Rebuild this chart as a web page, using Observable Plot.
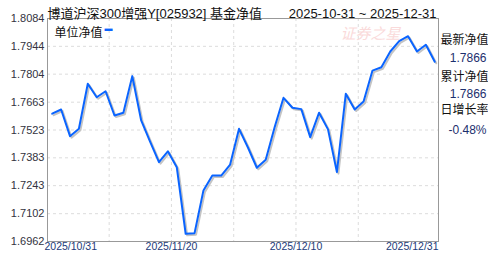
<!DOCTYPE html>
<html><head><meta charset="utf-8">
<script src="https://cdn.jsdelivr.net/npm/d3@7"></script>
<script src="https://cdn.jsdelivr.net/npm/@observablehq/plot@0.6"></script>
<style>
html,body{margin:0;padding:0;background:#fff;}
</style>
</head><body><div id="chart"></div>
<script>
const titleText = "博道沪深300增强Y[025932] 基金净值";
const rangeText = "2025-10-31 ~ 2025-12-31";
const seriesName = "单位净值";
const navValues = [1.7605,1.7626,1.7492,1.7529,1.7756,1.7688,1.7718,1.7596,1.7610,1.7794,
  1.7571,1.7465,1.7361,1.7416,1.7336,1.7001,1.7004,1.7219,1.7294,1.7294,
  1.7349,1.7529,1.7435,1.7333,1.7373,1.7537,1.7685,1.7635,1.7628,1.7487,
  1.7610,1.7526,1.7311,1.7705,1.7626,1.7666,1.7822,1.7839,1.7918,1.7970,
  1.7995,1.7918,1.7952,1.7866];
const yTicks = [1.6962,1.7102,1.7243,1.7383,1.7523,1.7663,1.7804,1.7944,1.8084];
const xDomain = [-0.53, 43.42];
const xGrid = [6.4,13.4,20.4,27.4,34.4];
const xTickLabels = ["2025/10/31","2025/11/20","2025/12/10","2025/12/31"];
const xTickPos = [xDomain[0], 13.4, 27.4, xDomain[1]];
const panelLabels = ["最新净值","累计净值","日增长率"];
const panelValues = ["1.7866","1.7866","-0.48%"];
const watermark = "证券之星";

const font = "'Liberation Sans', Arial, 'Noto Sans CJK SC', sans-serif";
const xLab = xTickLabels.map((t,i)=>({t, x:xTickPos[i]}));
const labelOffsets = [17, 54, 87];
const valueOffsets = [35, 71, 107];

const chart = Plot.plot({
  width: 488, height: 255,
  marginLeft: 47, marginRight: 50, marginTop: 18, marginBottom: 14,
  style: {fontFamily: font, background: "#fff", overflow: "visible"},
  x: {domain: xDomain, axis: null},
  y: {domain: [yTicks[0], yTicks[yTicks.length-1]], axis: null},
  marks: [
    Plot.ruleY(yTicks, {stroke: "#dcdcdc", strokeDasharray: "3,3"}),
    Plot.ruleX(xGrid, {stroke: "#dcdcdc", strokeDasharray: "3,3"}),
    Plot.text([watermark], {frameAnchor: "top-right", dx: -38, dy: 10, fill: "#fadada", fontSize: 15, fontStyle: "italic", fontFamily: "'Noto Sans CJK SC'"}),
    Plot.frame({stroke: "#999"}),
    Plot.line(navValues, {x: (d,i)=>i, y: d=>d, stroke: "#c4c4c4", strokeWidth: 2, dx: 1.5, dy: 1.5}),
    Plot.line(navValues, {x: (d,i)=>i, y: d=>d, stroke: "#0a64ff", strokeWidth: 2}),
    Plot.text(yTicks, {y: d=>d, frameAnchor: "left", dx: -3, textAnchor: "end", text: d=>d.toFixed(4), fontSize: 11, fill: "#333340"}),
    Plot.text(xLab.slice(0,1), {x: "x", text: "t", frameAnchor: "bottom", dy: 8, dx: -3, textAnchor: "start", fontSize: 10.5, fill: "#223a78"}),
    Plot.text(xLab.slice(1,3), {x: "x", text: "t", frameAnchor: "bottom", dy: 8, textAnchor: "middle", fontSize: 10.5, fill: "#223a78"}),
    Plot.text(xLab.slice(3), {x: "x", text: "t", frameAnchor: "bottom", dy: 8, textAnchor: "end", fontSize: 10.5, fill: "#223a78"}),
    Plot.text([titleText], {frameAnchor: "top-left", dy: -10, textAnchor: "start", fontSize: 13, fill: "#111"}),
    Plot.text([rangeText], {frameAnchor: "top-right", dy: -10, dx: -2, textAnchor: "end", fontSize: 13, fill: "#111"}),
    Plot.text([seriesName], {frameAnchor: "top-left", dx: 7, dy: 10, textAnchor: "start", fontSize: 12, fill: "#111"}),
    Plot.text(["▬"], {frameAnchor: "top-left", dx: 57, dy: 7, textAnchor: "start", fontSize: 8, fill: "#0a64ff"}),
    ...panelLabels.map((t,i)=>Plot.text([t], {frameAnchor: "top-right", dx: 2, dy: labelOffsets[i], textAnchor: "start", fontSize: 12, fill: "#111"})),
    ...panelValues.map((t,i)=>Plot.text([t], {frameAnchor: "top-right", dx: 48, dy: valueOffsets[i], textAnchor: "end", fontSize: 12, fill: "#1c2f6e"}))
  ]
});
document.getElementById("chart").appendChild(chart);
</script>
</body></html>
